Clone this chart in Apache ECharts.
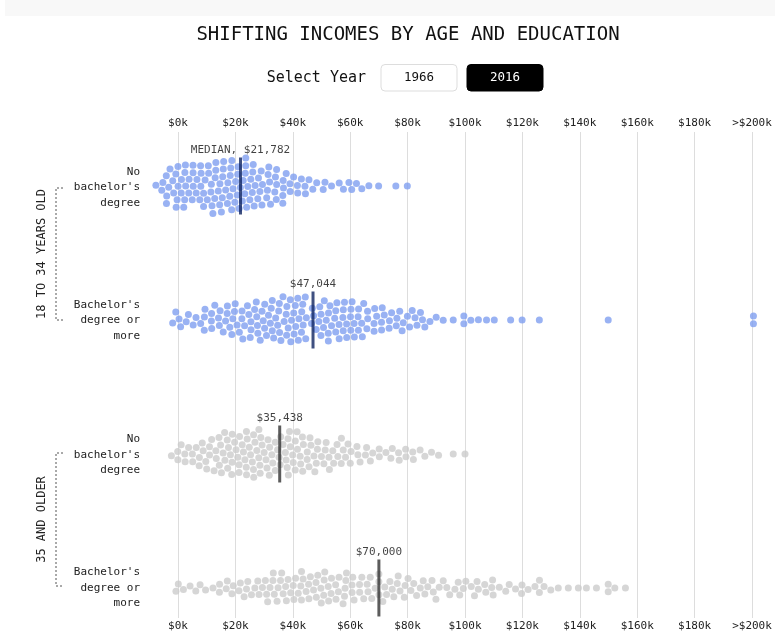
<!DOCTYPE html>
<html>
<head>
<meta charset="utf-8">
<script src="https://cdn.jsdelivr.net/npm/echarts@6/dist/echarts.min.js"></script>
<style>
html,body{margin:0;padding:0;background:#fff;}
#chart{width:775px;height:635px;}
</style>
</head>
<body>
<div id="chart"></div>
<script>
// ---------------- DATA (incomes in $k, one value per dot) ----------------
const rowLabels = ["No\nbachelor's\ndegree", "Bachelor's\ndegree or\nmore", "No\nbachelor's\ndegree", "Bachelor's\ndegree or\nmore"];
const groupLabels = ["18 TO 34 YEARS OLD", "35 AND OLDER"];
const tickValues = [0, 20, 40, 60, 80, 100, 120, 140, 160, 180, 200];
const tickLabels = ["$0k", "$20k", "$40k", "$60k", "$80k", "$100k", "$120k", "$140k", "$160k", "$180k", ">$200k"];
const medians = [21.782, 47.044, 35.438, 70.000];
const medianLabels = ["MEDIAN, $21,782", "$47,044", "$35,438", "$70,000"];

// 18-34, no bachelor's
const young_noBA = [
  -0.2, 2.2, 7.7, 10.2, 12.9, 15.4, 18.1, 20.7, 23.3,
  -4.2, -1.5, 1.2, 3.8, 8.8, 11.5, 14.2, 16.8, 19.5, 22.1, 24.7, 27.4, 30.0, 32.5, 37.6,
  -5.3, -2.8, -0.1, 2.6, 5.2, 7.9, 10.6, 13.2, 15.9, 18.6, 21.1, 23.6, 26.2, 28.9, 31.6, 34.3, 36.3, 39.0, 41.7, 44.2,
  -6.9, -4.0, -1.3, 1.4, 4.1, 6.7, 9.4, 12.1, 14.7, 17.4, 20.1, 23.0, 25.7, 28.3, 31.0, 33.7, 36.3, 39.0, 41.7, 44.4, 47.0, 50.6, 53.5, 56.2, 59.6, 62.2, 66.5, 69.9, 75.9, 79.9,
  57.6, 60.5, 64.0,
  -5.3, -2.8, -0.1, 2.6, 5.2, 7.9, 10.6, 13.2, 15.9, 18.6, 21.1, 23.6, 26.2, 28.9, 31.6, 34.3, 36.7, 40.2, 43.1, 45.4, 48.3, 51.2,
  -4.0, -1.0, 1.6, 4.3, 7.0, 9.6, 12.3, 15.0, 17.6, 20.3, 23.0, 25.7, 28.3, 31.0, 33.7, 36.3,
  0.3, 3.0, 5.7, 8.4, 11.4, 14.4, 22.5, 25.3, 28.1, 30.9, 33.8,
  11.7, 14.6, 17.5, 20.2, 22.8, 25.1,
  18.7
];
// 18-34, bachelor's or more
const young_BA = [
  9.4, 14.3, 17.0, 19.5, 22.2, 24.7, 27.2, 29.7, 32.3, 35.0, 37.6, 40.2, 42.8, 45.4, 49.7, 52.4, 54.9, 57.6, 60.3, 63.0, 68.3, 70.9, 76.2,
  0.1, 2.8, 5.3, 8.0, 11.7, 15.6, 18.1, 20.7, 23.3, 25.9, 28.6, 31.1, 33.8, 36.3, 39.0, 41.6, 44.2, 49.5, 52.1, 54.8, 57.6, 60.5, 63.2, 65.7, 68.3, 70.9, 73.6, 77.9, 80.6, 83.1, 86.0, 89.9,
  -1.6, 1.0, 3.6, 6.3, 9.1, 11.7, 14.4, 17.2, 19.9, 22.5, 25.1, 27.6, 30.3, 33.0, 35.5, 38.1, 40.8, 43.4, 50.6, 53.3, 56.0, 58.6, 61.3, 64.0, 66.6, 69.2, 71.9, 74.5, 77.2, 79.9, 82.6, 85.2, 87.8,
  -0.7, 9.1, 11.7, 14.6, 17.2, 19.9, 22.5, 25.1, 27.6, 30.3, 33.0, 35.5, 38.1, 40.8, 43.4, 49.5, 52.1, 54.8, 57.6, 60.3, 63.0, 65.7, 68.3, 70.9, 73.6, 76.2, 78.8, 81.5, 84.5,
  13.2, 18.7, 21.4, 23.9, 26.6, 29.3, 32.1, 34.7, 37.4, 40.2, 42.7, 48.3, 51.0, 53.6, 56.3, 59.0, 61.7, 64.3,
  28.0, 30.9, 33.6, 36.1, 39.0, 41.6, 44.1, 49.5, 52.1, 54.8, 57.6, 60.3, 63.0,
  37.6, 40.4, 43.1,
  46.9, 46.9, 47.0,
  92.4, 95.9, 99.6, 99.6, 102.1, 104.6, 107.5, 110.2, 115.9, 119.9, 125.9, 149.9, 200.5, 200.5
];
// 35+, no bachelor's
const old_noBA = [
  18.7, 25.9,
  14.1, 16.7, 21.0, 23.3, 28.0, 30.3, 39.0, 42.2, 45.3,
  7.1, 9.8, 12.3, 15.0, 17.5, 20.2, 22.8, 25.3, 27.6, 32.6, 36.7, 39.6, 42.5, 47.1,
  -0.2, 2.4, 5.3, 8.2, 10.9, 13.5, 16.0, 18.7, 21.4, 23.9, 26.5, 29.1, 31.8, 35.3, 37.9, 40.4, 43.1, 45.7, 48.3, 50.6, 52.9, 55.3, 57.8, 59.9, 62.2, 66.9,
  -1.6, 1.0, 3.7, 6.5, 9.2, 11.8, 14.5, 17.2, 19.9, 22.5, 25.1, 27.8, 30.4, 33.0, 35.3, 38.1, 40.8, 43.4, 46.0, 48.7, 51.2, 53.9, 56.4, 59.1, 62.8, 65.1, 67.8, 70.1, 72.5, 74.8, 77.1, 79.4, 82.0, 84.1, 86.0, 88.4, 90.7, 95.9, 100.0,
  -0.2, 2.4, 5.1, 7.7, 10.6, 13.2, 15.8, 18.5, 21.0, 23.7, 26.2, 28.9, 31.6, 34.1, 37.3, 39.9, 42.5, 45.2, 47.7, 50.4, 52.9, 55.6, 58.3, 60.8, 63.4, 65.7, 70.1, 74.1, 76.7, 79.4, 82.0,
  11.4, 14.6, 18.1, 20.7, 23.3, 26.0, 28.6, 31.1, 33.8, 37.9, 40.4, 43.1, 46.0, 48.3, 51.6, 54.1, 56.7,
  19.9, 23.9, 26.5, 29.1, 31.5, 38.4, 41.1,
  35.4, 35.5
];
// 35+, bachelor's or more
const old_BA = [
  31.2, 33.8, 36.1, 40.5, 43.1, 45.4, 50.0, 52.4, 56.8, 59.9, 63.2, 65.9,
  0.1, 4.2, 7.7, 14.4, 17.2, 19.3, 21.6, 24.3, 26.8, 29.5, 32.0, 38.1, 47.4, 54.7, 61.3, 64.6, 67.4, 71.3, 73.8, 76.7, 79.1, 82.0, 84.5, 87.2, 89.8, 92.4, 94.7, 97.6, 100.3,
  35.0, 42.5, 44.8, 50.0, 51.8, 57.4, 58.7,
  -0.7, 1.9, 6.2, 9.6, 12.3, 17.0, 21.2, 23.9, 28.0, 30.3, 33.2, 35.5, 37.8, 40.4, 43.1, 45.7, 48.3, 50.6, 53.2, 55.8, 58.2, 60.7, 63.4, 66.3, 69.2, 72.1, 75.0, 77.6, 80.2, 82.9, 85.5, 88.4, 91.0, 93.6, 96.5, 99.4,
  14.4, 18.7, 23.3, 25.7, 28.3, 30.7, 36.9, 39.4, 46.0, 48.9, 51.8, 54.7, 60.8, 64.0, 66.9, 72.7, 76.2, 78.7, 81.4, 86.0, 88.9, 98.2,
  33.2, 41.9, 43.7, 57.6, 69.8,
  34.4, 37.3, 41.3, 48.0, 50.6, 53.5, 58.7, 74.8,
  70.0, 70.0,
  102.5, 103.4, 104.2, 104.2, 106.9, 107.3, 109.3, 109.6, 109.8, 111.9, 114.2, 115.4, 117.7, 119.8, 119.8, 122.0, 124.3, 125.9, 125.9, 127.6, 129.8, 132.5, 136.0, 139.5, 142.3, 145.8, 149.9, 149.9, 152.2, 155.9
];
const rows = [young_noBA, young_BA, old_noBA, old_BA];
const dotColors = ["#7f9ff0", "#7f9ff0", "#cccccc", "#cccccc"];
const medianColors = ["#0f2460", "#0f2460", "#333333", "#333333"];

// ---------------- LAYOUT ----------------
const FONT = "'DejaVu Sans Mono', 'Liberation Mono', monospace";
const G = {left: 178, right: 23, top: 132, bottom: 17};
const Y_MIN = -0.403, Y_MAX = 3.224;
const chart = echarts.init(document.getElementById('chart'), null, {renderer: 'canvas'});
const W = chart.getWidth(), H = chart.getHeight();
const pxPerK = (W - G.left - G.right) / 200;
const pxPerRow = (H - G.top - G.bottom) / (Y_MAX - Y_MIN);
const D = 7.6; // collision diameter in px

function collide(pts) {
  pts.sort((a, b) => a.x - b.x);
  for (let i = 0; i < pts.length; i++) {
    const p = pts[i];
    for (let j = i + 1; j < pts.length && pts[j].x - p.x < D; j++) {
      const q = pts[j];
      let dx = q.x - p.x, dy = q.y - p.y;
      let d = Math.sqrt(dx * dx + dy * dy);
      if (d < D) {
        if (d < 1e-4) { dx = 0; dy = (j % 2 ? 1 : -1) * 1e-3; d = 1e-3; }
        const ov = (D - d) / 2, ux = dx / d, uy = dy / d;
        p.x -= ux * ov; p.y -= uy * ov; q.x += ux * ov; q.y += uy * ov;
      }
    }
  }
}

// beeswarm: greedy start, then a collision / centring relaxation (like a force layout)
function swarm(values) {
  const pts = values.map(v => ({v: v, tx: v * pxPerK, x: v * pxPerK, y: 0})).sort((a, b) => a.x - b.x);
  const placed = [];
  let flip = 1;
  for (const p of pts) {
    const near = placed.filter(q => Math.abs(q.x - p.x) < D);
    const cands = [0];
    for (const q of near) {
      const dy = Math.sqrt(D * D - (q.x - p.x) * (q.x - p.x));
      cands.push(q.y + dy, q.y - dy);
    }
    cands.sort((a, b) => (Math.abs(a) - Math.abs(b)) || (flip * (b - a)));
    for (const c of cands) {
      if (near.every(q => (q.x - p.x) * (q.x - p.x) + (q.y - c) * (q.y - c) >= D * D - 0.01)) { p.y = c; break; }
    }
    flip = -flip;
    placed.push(p);
  }
  for (let it = 0; it < 250; it++) {
    for (const p of pts) { p.x += (p.tx - p.x) * 0.15; p.y *= 0.985; }
    collide(pts); collide(pts);
  }
  for (let it = 0; it < 40; it++) {
    for (const p of pts) { p.x += (p.tx - p.x) * 0.03; }
    collide(pts);
  }
  return pts;
}

const series = rows.map((vals, r) => ({
  type: 'scatter',
  clip: false,
  symbolSize: 7,
  silent: true,
  itemStyle: {color: dotColors[r]},
  data: swarm(vals).map(p => [p.x / pxPerK, r + p.y / pxPerRow]),
  z: 2
}));

series.push({
  type: 'scatter',
  clip: false,
  symbol: 'rect',
  symbolSize: [3, 57],
  silent: true,
  z: 5,
  data: medians.map((m, r) => ({
    value: [m, r],
    itemStyle: {color: medianColors[r]}
  })),
  label: {
    show: true,
    position: 'top',
    distance: 2,
    formatter: p => medianLabels[p.dataIndex],
    fontFamily: FONT,
    fontSize: 11,
    color: '#111'
  }
});

const xAxisBase = {
  type: 'value', min: 0, max: 200, interval: 20, gridIndex: 0,
  axisLine: {show: false}, axisTick: {show: false},
  axisLabel: {
    margin: 3, fontFamily: FONT, fontSize: 11, color: '#222',
    formatter: v => tickLabels[tickValues.indexOf(v)]
  }
};

const graphic = [
  {type: 'rect', shape: {x: 5, y: 0, width: 770, height: 16}, style: {fill: '#f8f8f8'}, silent: true},
  {type: 'text', x: 408, y: 35, style: {text: 'SHIFTING INCOMES BY AGE AND EDUCATION', font: '19px ' + FONT, fill: '#111', align: 'center', verticalAlign: 'middle', textAlign: 'center', textVerticalAlign: 'middle'}},
  {type: 'text', x: 366, y: 78, style: {text: 'Select Year', font: '15px ' + FONT, fill: '#111', align: 'right', verticalAlign: 'middle', textAlign: 'right', textVerticalAlign: 'middle'}},
  {type: 'rect', shape: {x: 381, y: 64.5, width: 76, height: 26.5, r: 4}, style: {fill: '#fff', stroke: '#dddddd', lineWidth: 1}},
  {type: 'text', x: 419, y: 78, style: {text: '1966', font: '12.5px ' + FONT, fill: '#111', align: 'center', verticalAlign: 'middle', textAlign: 'center', textVerticalAlign: 'middle'}},
  {type: 'rect', shape: {x: 467, y: 64.5, width: 76, height: 26.5, r: 4}, style: {fill: '#000', stroke: '#000', lineWidth: 1}},
  {type: 'text', x: 505, y: 78, style: {text: '2016', font: '12.5px ' + FONT, fill: '#fff', align: 'center', verticalAlign: 'middle', textAlign: 'center', textVerticalAlign: 'middle'}}
];
const rowCenters = [187.5, 320.5, 455, 588];
rowLabels.forEach((t, i) => {
  graphic.push({type: 'text', x: 140, y: rowCenters[i], style: {text: t, font: '11px ' + FONT, fill: '#222', lineHeight: 15.5, align: 'right', verticalAlign: 'middle', textAlign: 'right', textVerticalAlign: 'middle'}});
});
const brackets = [[188, 320], [453, 586]];
groupLabels.forEach((t, i) => {
  const [a, b] = brackets[i];
  graphic.push({type: 'polyline', shape: {points: [[63, a], [56, a], [56, b], [63, b]]}, style: {stroke: '#555', lineWidth: 1, lineDash: [2, 2], fill: null}});
  graphic.push({type: 'text', x: 42, y: (a + b) / 2, rotation: Math.PI / 2, style: {text: t, font: '12px ' + FONT, fill: '#222', align: 'center', verticalAlign: 'middle', textAlign: 'center', textVerticalAlign: 'middle'}});
});

chart.setOption({
  animation: false,
  backgroundColor: '#fff',
  grid: {left: G.left, right: G.right, top: G.top, bottom: G.bottom, containLabel: false},
  xAxis: [
    Object.assign({}, xAxisBase, {position: 'top', splitLine: {show: true, lineStyle: {color: '#dddddd', width: 1}}}),
    Object.assign({}, xAxisBase, {position: 'bottom', splitLine: {show: false}})
  ],
  yAxis: {type: 'value', min: Y_MIN, max: Y_MAX, inverse: true, show: false, splitLine: {show: false}},
  graphic: graphic,
  series: series
});
</script>
</body>
</html>
